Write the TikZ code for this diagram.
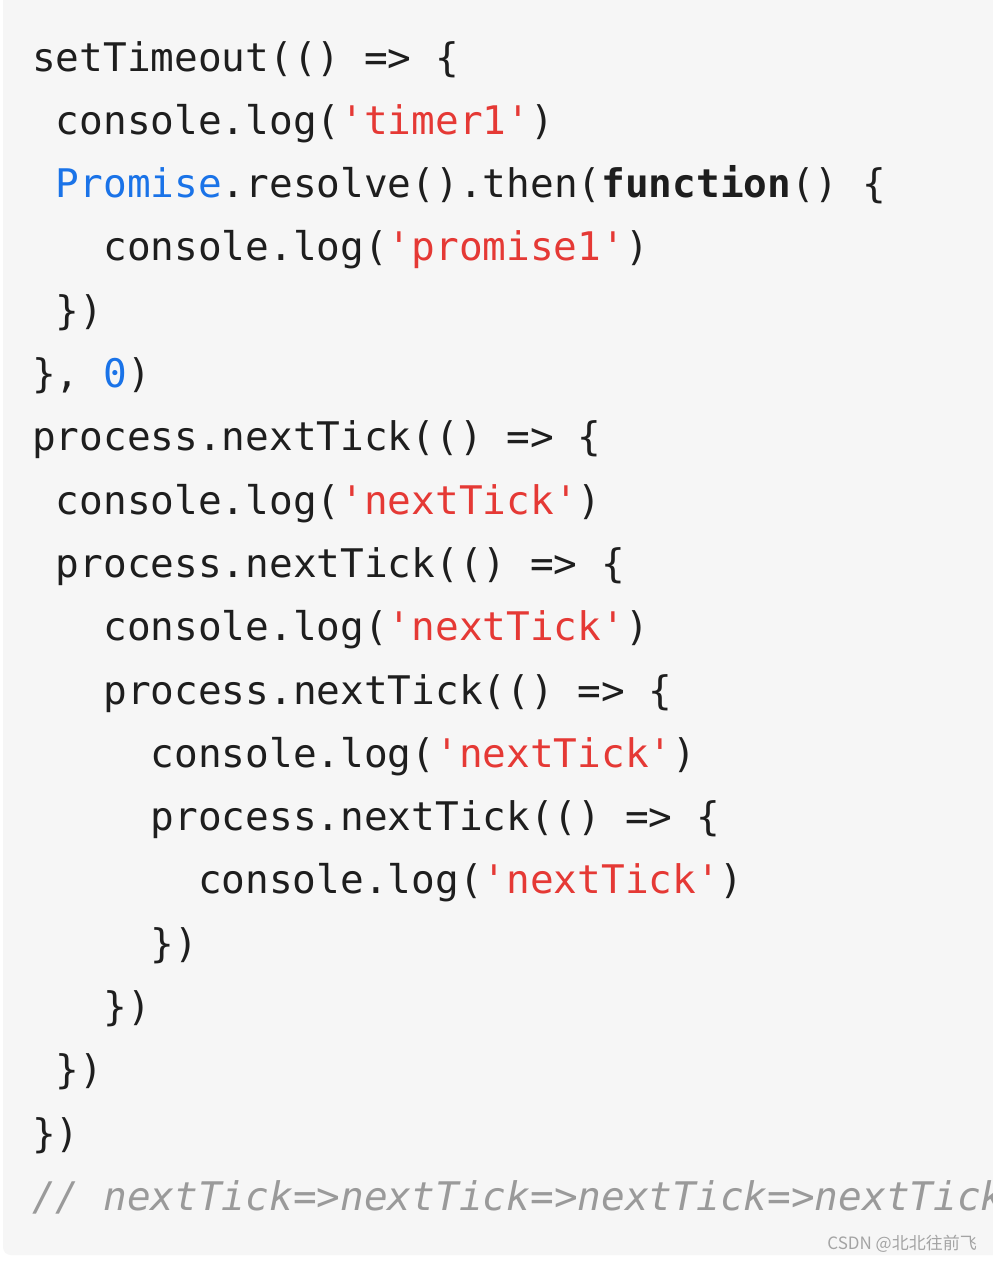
\documentclass[tikz,border=0pt]{standalone}
\usepackage{fontspec}
\newfontfamily\code{DejaVu Sans Mono}
\newfontfamily\cjk{Noto Sans CJK SC}
\definecolor{bg}{HTML}{F6F6F6}
\definecolor{txt}{HTML}{1E1E1E}
\definecolor{str}{HTML}{E53935}
\definecolor{kw}{HTML}{1A73E8}
\definecolor{cm}{HTML}{9A9A9A}
\tikzset{ln/.style={anchor=base west,inner sep=0pt,font=\code\fontsize{39.4}{40}\selectfont,text=txt}}
\newcommand{\cstr}[1]{\textcolor{str}{#1}}
\newcommand{\ckw}[1]{\textcolor{kw}{#1}}
\newcommand{\codeln}[3]{\node[ln] (l#1) at ({32+23.7*#2},{71+63.3*(#1-1)}) {#3};}
\begin{document}
\begin{tikzpicture}[x=1pt,y=-1pt]
\useasboundingbox (0,0) rectangle (993,1261);
\fill[white] (0,0) rectangle (993,1261);
\begin{scope}
\clip (0,0) rectangle (993,1261);
\fill[bg,rounded corners=8pt] (3,-10) rectangle (1003,1255);
\codeln{1}{0}{setTimeout(() => \{}
\codeln{2}{1}{console.log(\cstr{'timer1'})}
\codeln{3}{1}{\ckw{Promise}.resolve().then(\textbf{function}() \{}
\codeln{4}{3}{console.log(\cstr{'promise1'})}
\codeln{5}{1}{\})}
\codeln{6}{0}{\}, \ckw{0})}
\codeln{7}{0}{process.nextTick(() => \{}
\codeln{8}{1}{console.log(\cstr{'nextTick'})}
\codeln{9}{1}{process.nextTick(() => \{}
\codeln{10}{3}{console.log(\cstr{'nextTick'})}
\codeln{11}{3}{process.nextTick(() => \{}
\codeln{12}{5}{console.log(\cstr{'nextTick'})}
\codeln{13}{5}{process.nextTick(() => \{}
\codeln{14}{7}{console.log(\cstr{'nextTick'})}
\codeln{15}{5}{\})}
\codeln{16}{3}{\})}
\codeln{17}{1}{\})}
\codeln{18}{0}{\})}
\codeln{19}{0}{\textcolor{cm}{\itshape // nextTick=>nextTick=>nextTick=>nextTick}}
\node[anchor=base east,inner sep=0pt,text=cm!90,font=\cjk\fontsize{17}{18}\selectfont] (wm) at (977,1249) {CSDN @北北往前飞};
\end{scope}
\end{tikzpicture}
\end{document}
